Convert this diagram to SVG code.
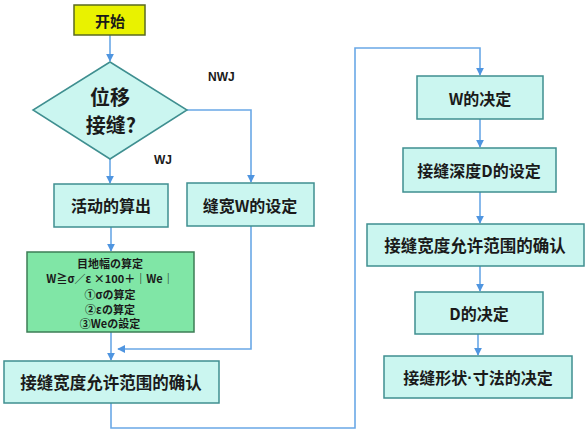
<svg xmlns="http://www.w3.org/2000/svg" width="588" height="433" viewBox="0 0 588 433">
<defs>
<style>
.box{fill:#cbf6f0;stroke:#3f8f90;stroke-width:1.5}
.t{font-family:"Noto Sans CJK SC","Noto Sans",sans-serif;font-weight:700;fill:#1a1a1a;text-anchor:middle;dominant-baseline:central}
.c{fill:none;stroke:#6aa8e6;stroke-width:1.6}
.lbl{font-family:"Liberation Sans","Noto Sans",sans-serif;font-weight:700;font-size:12px;fill:#1a1a1a}
</style>
<marker id="ah" viewBox="0 0 10 10" refX="9" refY="5" markerWidth="5" markerHeight="5" orient="auto">
<path d="M0,0 L10,5 L0,10 z" fill="#4f95e0"/>
</marker>
</defs>
<rect width="588" height="433" fill="#ffffff"/>
<g id="connectors">
<path class="c" d="M110,35 V61" marker-end="url(#ah)"/>
<path class="c" d="M110,159 V183" marker-end="url(#ah)"/>
<path class="c" d="M187,110 H251 V182" marker-end="url(#ah)"/>
<path class="c" d="M111,227 V251" marker-end="url(#ah)"/>
<path class="c" d="M111,332 V360" marker-end="url(#ah)"/>
<path class="c" d="M251,226 V349 H118" marker-end="url(#ah)"/>
<path class="c" d="M111,403 V428 H355 V48 H480 V75" marker-end="url(#ah)"/>
<path class="c" d="M480,119 V147" marker-end="url(#ah)"/>
<path class="c" d="M480,192 V223" marker-end="url(#ah)"/>
<path class="c" d="M480,266 V291" marker-end="url(#ah)"/>
<path class="c" d="M478,334 V355" marker-end="url(#ah)"/>
</g>
<g id="labels">
<text class="lbl" x="208" y="81">NWJ</text>
<text class="lbl" x="154" y="164">WJ</text>
</g>
<g id="start">
<rect x="74" y="5" width="71" height="30" fill="#e9f200" stroke="#5a6a20" stroke-width="1.5"/>
<text class="t" x="110" y="20" font-size="15">开始</text>
</g>
<g id="decision">
<polygon class="box" points="110,62 187,110 110,159 33,110"/>
<text class="t" x="110" y="96" font-size="20">位移</text>
<text class="t" x="111" y="124" font-size="20">接缝?</text>
</g>
<g id="calc">
<rect class="box" x="54" y="184" width="114" height="43"/>
<text class="t" x="111" y="205" font-size="16">活动的算出</text>
</g>
<g id="widthset">
<rect class="box" x="187" y="183" width="127" height="43"/>
<text class="t" x="250" y="205" font-size="16">缝宽W的设定</text>
</g>
<g id="green">
<rect x="27" y="252" width="167" height="80" fill="#80e6a6" stroke="#3c7d55" stroke-width="1.5"/>
<text class="t" x="110" y="263" font-size="11">目地幅の算定</text>
<text class="t" x="110" y="278" font-size="11">W≧σ／ε ×100＋｜We｜</text>
<text class="t" x="110" y="294" font-size="11">①σの算定</text>
<text class="t" x="110" y="308.5" font-size="11">②εの算定</text>
<text class="t" x="110" y="323" font-size="11">③Weの設定</text>
</g>
<g id="confirm1">
<rect class="box" x="4" y="361" width="215" height="42"/>
<text class="t" x="111" y="382" font-size="16.5">接缝宽度允许范围的确认</text>
</g>
<g id="wdecide">
<rect class="box" x="417" y="76" width="126" height="43"/>
<text class="t" x="480" y="97.5" font-size="16">W的决定</text>
</g>
<g id="depth">
<rect class="box" x="403" y="148" width="153" height="44"/>
<text class="t" x="479" y="170" font-size="16">接缝深度D的设定</text>
</g>
<g id="confirm2">
<rect class="box" x="367" y="224" width="217" height="42"/>
<text class="t" x="475" y="245" font-size="16.5">接缝宽度允许范围的确认</text>
</g>
<g id="ddecide">
<rect class="box" x="415" y="292" width="128" height="42"/>
<text class="t" x="479" y="313" font-size="16">D的决定</text>
</g>
<g id="shape">
<rect class="box" x="384" y="356" width="188" height="42"/>
<text class="t" x="478" y="377" font-size="16">接缝形状<tspan font-family="Liberation Sans, sans-serif">·</tspan>寸法的决定</text>
</g>
</svg>
